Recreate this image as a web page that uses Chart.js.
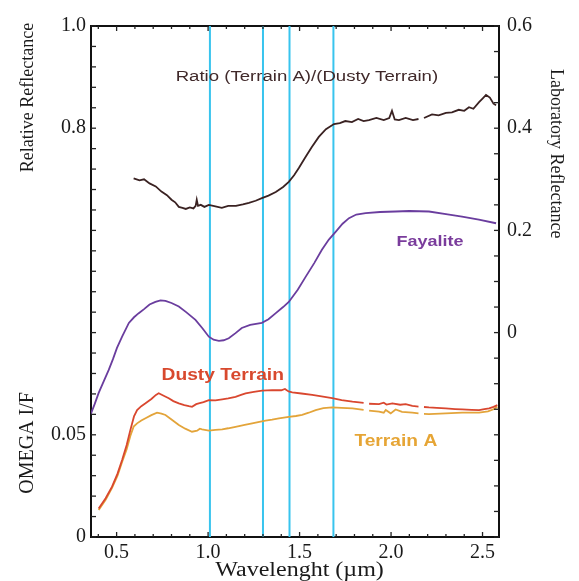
<!DOCTYPE html>
<html>
<head>
<meta charset="utf-8">
<script src="https://cdn.jsdelivr.net/npm/chart.js@4.4.1/dist/chart.umd.min.js"></script>
<style>
  html, body { margin: 0; padding: 0; background: #ffffff; }
  #wrap { width: 579px; height: 581px; position: relative; }
</style>
</head>
<body>
<div id="wrap"><canvas id="chart"></canvas></div>
<script>
// Ratio (Terrain A)/(Dusty Terrain) - left axis, relative reflectance
const ratioWl = [0.593, 0.625, 0.650, 0.680, 0.714, 0.745, 0.775, 0.800, 0.820, 0.840, 0.860, 0.878, 0.900, 0.920, 0.932, 0.938, 0.945, 0.960, 0.980,
  1.004, 1.040, 1.075, 1.110, 1.152, 1.190, 1.223, 1.260, 1.294, 1.330, 1.370, 1.410, 1.441, 1.470, 1.496, 1.530, 1.567, 1.605, 1.644, 1.688,
  1.720, 1.750, 1.786, 1.820, 1.850, 1.879, 1.920, 1.960, 1.990, 2.005, 2.020, 2.043, 2.080, 2.120, 2.150, 2.165, 2.180, 2.224, 2.260, 2.300,
  2.333, 2.370, 2.400, 2.426, 2.450, 2.481, 2.500, 2.519, 2.540, 2.560, 2.574];
const ratioVal = [0.702, 0.698, 0.700, 0.692, 0.686, 0.676, 0.669, 0.660, 0.655, 0.646, 0.644, 0.642, 0.645, 0.643, 0.648, 0.660, 0.648, 0.650, 0.646,
  0.650, 0.647, 0.644, 0.648, 0.648, 0.651, 0.654, 0.658, 0.663, 0.668, 0.675, 0.685, 0.695, 0.708, 0.722, 0.742, 0.763, 0.783, 0.798, 0.808,
  0.810, 0.814, 0.812, 0.818, 0.814, 0.816, 0.820, 0.816, 0.820, 0.834, 0.817, 0.816, 0.820, 0.816, 0.818, null, 0.820, 0.827, 0.825, 0.830,
  0.831, 0.836, 0.834, 0.841, 0.838, 0.851, 0.858, 0.865, 0.860, 0.848, 0.845];

// Fayalite - right axis, laboratory reflectance
const fayWl = [0.357, 0.380, 0.402, 0.430, 0.457, 0.480, 0.502, 0.530, 0.567, 0.595, 0.621, 0.650, 0.680, 0.712, 0.740, 0.767, 0.800, 0.840, 0.880,
  0.931, 0.970, 1.004, 1.030, 1.059, 1.085, 1.113, 1.150, 1.184, 1.230, 1.294, 1.330, 1.370, 1.410, 1.441, 1.490, 1.533, 1.580, 1.622, 1.660,
  1.697, 1.735, 1.770, 1.810, 1.861, 1.940, 2.025, 2.100, 2.207, 2.300, 2.388, 2.480, 2.574];
const fayVal = [-0.161, -0.140, -0.118, -0.095, -0.073, -0.052, -0.030, -0.008, 0.019, 0.030, 0.038, 0.046, 0.055, 0.060, 0.063, 0.062, 0.058, 0.051, 0.040,
  0.025, 0.008, -0.008, -0.014, -0.016, -0.015, -0.011, -0.001, 0.009, 0.015, 0.019, 0.026, 0.038, 0.050, 0.060, 0.084, 0.109, 0.136, 0.162, 0.182,
  0.197, 0.213, 0.224, 0.231, 0.234, 0.236, 0.237, 0.238, 0.237, 0.232, 0.227, 0.221, 0.214];

// Dusty Terrain - OMEGA I/F
const dustyWl = [0.402, 0.440, 0.475, 0.505, 0.530, 0.555, 0.575, 0.595, 0.612, 0.635, 0.658, 0.690, 0.715, 0.730, 0.760, 0.785, 0.810, 0.840, 0.870,
  0.895, 0.912, 0.935, 0.949, 0.975, 1.004, 1.040, 1.077, 1.110, 1.150, 1.180, 1.205, 1.250, 1.295, 1.350, 1.400, 1.420, 1.440, 1.460, 1.510,
  1.569, 1.620, 1.678, 1.730, 1.789, 1.850, 1.865, 1.880, 1.934, 1.960, 1.975, 2.007, 2.050, 2.080, 2.116, 2.150, 2.165, 2.180, 2.207, 2.250,
  2.299, 2.350, 2.389, 2.440, 2.481, 2.510, 2.536, 2.560, 2.581];
const dustyVal = [0.0140, 0.0190, 0.0246, 0.0310, 0.0377, 0.0450, 0.0523, 0.0590, 0.0621, 0.0640, 0.0654, 0.0675, 0.0695, 0.0703, 0.0690, 0.0679, 0.0665, 0.0654, 0.0645,
  0.0640, 0.0637, 0.0650, 0.0654, 0.0660, 0.0670, 0.0668, 0.0673, 0.0678, 0.0686, 0.0695, 0.0703, 0.0710, 0.0716, 0.0719, 0.0718, 0.0724, 0.0712, 0.0708, 0.0702,
  0.0695, 0.0688, 0.0679, 0.0670, 0.0662, 0.0656, null, 0.0652, 0.0650, 0.0657, 0.0648, 0.0654, 0.0647, 0.0650, 0.0641, 0.0638, null, 0.0636, 0.0634, 0.0632,
  0.0629, 0.0626, 0.0624, 0.0622, 0.0621, 0.0626, 0.0629, 0.0637, 0.0645];

// Terrain A - OMEGA I/F
const terrWl = [0.402, 0.440, 0.475, 0.505, 0.530, 0.555, 0.575, 0.593, 0.612, 0.635, 0.658, 0.690, 0.721, 0.745, 0.767, 0.800, 0.840, 0.875, 0.912,
  0.940, 0.955, 0.967, 1.004, 1.040, 1.077, 1.110, 1.150, 1.200, 1.241, 1.280, 1.314, 1.350, 1.387, 1.441, 1.480, 1.514, 1.550, 1.588, 1.630,
  1.678, 1.730, 1.789, 1.850, 1.865, 1.880, 1.934, 1.960, 1.971, 1.998, 2.025, 2.060, 2.116, 2.150, 2.165, 2.180, 2.207, 2.299, 2.389, 2.481,
  2.530, 2.560, 2.581];
const terrVal = [0.0132, 0.0182, 0.0240, 0.0300, 0.0367, 0.0430, 0.0494, 0.0540, 0.0556, 0.0570, 0.0581, 0.0596, 0.0608, 0.0604, 0.0597, 0.0575, 0.0548, 0.0530, 0.0515,
  0.0520, 0.0530, 0.0527, 0.0520, 0.0524, 0.0527, 0.0532, 0.0539, 0.0548, 0.0556, 0.0563, 0.0569, 0.0574, 0.0580, 0.0588, 0.0592, 0.0597, 0.0608, 0.0621, 0.0630,
  0.0634, 0.0632, 0.0629, 0.0622, null, 0.0618, 0.0613, 0.0608, 0.0621, 0.0605, 0.0624, 0.0612, 0.0608, 0.0605, null, 0.0602, 0.0601, 0.0605, 0.0608, 0.0608,
  0.0615, 0.0625, 0.0637];

// band positions (vertical cyan lines)
const bandLines = [1.01, 1.30, 1.445, 1.685];

// tick marks and labels
const xTicks = [0.4, 0.5, 0.6, 0.7, 0.8, 0.9, 1.0, 1.1, 1.2, 1.3, 1.4, 1.5, 1.6, 1.7, 1.8, 1.9, 2.0, 2.1, 2.2, 2.3, 2.4, 2.5];
const xLabels = [0.5, 1.0, 1.5, 2.0, 2.5];
const ratioTicks = [];
for (let i = 0; i <= 25; i++) ratioTicks.push(Math.round(i * 4) / 100);
const ratioLabels = [1.0, 0.8];
const omegaLabels = [0.05, 0];
const labTicks = [];
for (let i = -8; i <= 12; i++) labTicks.push(Math.round(i * 5) / 100);
const labLabels = [0.6, 0.4, 0.2, 0];

const annotations = [
  { text: "Ratio (Terrain A)/(Dusty Terrain)", x: 1.54, y: 0.900, axis: "y", color: "#40292a", bold: false, size: 15.5 },
  { text: "Fayalite", x: 2.213, y: 0.177, axis: "lab", color: "#7a3c9c", bold: true, size: 15 },
  { text: "Dusty Terrain", x: 1.08, y: 0.0792, axis: "omega", color: "#d8492e", bold: true, size: 16 },
  { text: "Terrain A", x: 2.026, y: 0.0465, axis: "omega", color: "#e6a535", bold: true, size: 16 },
];

const serif = "'Liberation Serif', 'Times New Roman', serif";
const sans = "'Liberation Sans', Arial, sans-serif";

const pts = (wl, val) => wl.map((x, i) => ({ x: x, y: val[i] }));

const datasets = [
  { data: pts(ratioWl, ratioVal), yAxisID: "y", borderColor: "#3a2222", borderWidth: 1.8 },
  { data: pts(fayWl, fayVal), yAxisID: "lab", borderColor: "#6a3d9e", borderWidth: 1.8 },
  { data: pts(dustyWl, dustyVal), yAxisID: "omega", borderColor: "#d9472f", borderWidth: 1.8 },
  { data: pts(terrWl, terrVal), yAxisID: "omega", borderColor: "#e3a43a", borderWidth: 1.8 },
];
bandLines.forEach((w) => {
  datasets.push({ data: [{ x: w, y: 0 }, { x: w, y: 1 }], yAxisID: "y", borderColor: "#38c4ee", borderWidth: 2 });
});
datasets.forEach((d) => {
  d.pointRadius = 0;
  d.spanGaps = false;
  d.fill = false;
  d.tension = 0;
});

// inward tick marks on all four sides
const innerTicks = {
  id: "innerTicks",
  afterDraw(chart) {
    const { ctx, chartArea: a, scales } = chart;
    ctx.save();
    ctx.strokeStyle = "#222";
    ctx.lineWidth = 1.3;
    const seg = (x1, y1, x2, y2) => {
      ctx.beginPath();
      ctx.moveTo(x1, y1);
      ctx.lineTo(x2, y2);
      ctx.stroke();
    };
    ratioTicks.forEach((v) => {
      const y = scales.y.getPixelForValue(v);
      seg(a.left, y, a.left + 5, y);
    });
    labTicks.forEach((v) => {
      const y = scales.lab.getPixelForValue(v);
      seg(a.right - 5, y, a.right, y);
    });
    xTicks.forEach((v) => {
      const x = scales.x.getPixelForValue(v);
      const len = xLabels.includes(v) ? 5 : 3;
      seg(x, a.bottom, x, a.bottom - len);
      seg(x, a.top, x, a.top + len);
    });
    ctx.restore();
  },
};

// left labels (two quantities share the left axis) and axis titles
const labelsPlugin = {
  id: "labelsPlugin",
  afterDraw(chart) {
    const { ctx, chartArea: a, scales } = chart;
    ctx.save();
    ctx.fillStyle = "#1a1a1a";
    ctx.font = "20px " + serif;
    ctx.textAlign = "right";
    ctx.textBaseline = "middle";
    ratioLabels.forEach((v) => ctx.fillText(v.toFixed(1), a.left - 5, scales.y.getPixelForValue(v)));
    omegaLabels.forEach((v) => ctx.fillText(v === 0 ? "0" : String(v), a.left - 5, scales.omega.getPixelForValue(v)));

    ctx.textAlign = "center";
    ctx.font = "18px " + serif;
    ctx.save();
    ctx.translate(28, scales.y.getPixelForValue(0.86));
    ctx.rotate(-Math.PI / 2);
    ctx.fillText("Relative Reflectance", 0, 0);
    ctx.restore();

    ctx.save();
    ctx.font = "20px " + serif;
    ctx.translate(28, scales.omega.getPixelForValue(0.046));
    ctx.rotate(-Math.PI / 2);
    ctx.fillText("OMEGA I/F", 0, 0);
    ctx.restore();

    ctx.save();
    ctx.translate(556, scales.lab.getPixelForValue(0.35));
    ctx.rotate(Math.PI / 2);
    ctx.fillText("Laboratory Reflectance", 0, 0);
    ctx.restore();

    ctx.save();
    ctx.font = "20px " + serif;
    ctx.translate(scales.x.getPixelForValue(1.5), 571);
    ctx.scale(1.2, 1);
    ctx.fillText("Wavelenght (\u00b5m)", 0, 0);
    ctx.restore();

    annotations.forEach((n) => {
      ctx.save();
      ctx.fillStyle = n.color;
      ctx.font = (n.bold ? "bold " : "") + n.size + "px " + sans;
      ctx.translate(scales.x.getPixelForValue(n.x), scales[n.axis].getPixelForValue(n.y));
      ctx.scale(1.2, 1);
      ctx.fillText(n.text, 0, 0);
      ctx.restore();
    });
    ctx.restore();
  },
};

const border = { display: true, color: "#111", width: 2 };

new Chart(document.getElementById("chart"), {
  type: "line",
  data: { datasets: datasets },
  plugins: [innerTicks, labelsPlugin],
  options: {
    responsive: true,
    maintainAspectRatio: false,
    animation: false,
    layout: { padding: { top: 26, left: 0, right: 0, bottom: 0 } },
    plugins: { legend: { display: false }, tooltip: { enabled: false } },
    scales: {
      x: {
        type: "linear",
        position: "bottom",
        min: 0.36,
        max: 2.59,
        grid: { display: false, drawTicks: false },
        border: border,
        afterBuildTicks: (s) => { s.ticks = xTicks.map((v) => ({ value: v })); },
        afterFit: (s) => { s.height = 44; },
        ticks: {
          autoSkip: false,
          maxRotation: 0,
          padding: 4,
          color: "#1a1a1a",
          font: { family: serif, size: 20 },
          callback: (v) => (xLabels.includes(v) ? v.toFixed(1) : ""),
        },
      },
      xTop: {
        type: "linear",
        position: "top",
        min: 0.36,
        max: 2.59,
        grid: { display: false, drawTicks: false },
        border: border,
        ticks: { display: false },
        afterFit: (s) => { s.height = 0; },
      },
      y: {
        type: "linear",
        position: "left",
        min: 0,
        max: 1.0,
        grid: { display: false, drawTicks: false },
        border: border,
        ticks: { display: false },
        afterFit: (s) => { s.width = 91; },
      },
      omega: {
        type: "linear",
        position: "left",
        min: 0,
        max: 0.25,
        display: false,
      },
      lab: {
        type: "linear",
        position: "right",
        min: -0.4,
        max: 0.6,
        grid: { display: false, drawTicks: false },
        border: border,
        afterBuildTicks: (s) => { s.ticks = labTicks.map((v) => ({ value: v })); },
        afterFit: (s) => { s.width = 80; },
        ticks: {
          autoSkip: false,
          padding: 8,
          color: "#1a1a1a",
          font: { family: serif, size: 20 },
          callback: (v) => (labLabels.includes(v) ? (v === 0 ? "0" : v.toFixed(1)) : ""),
        },
      },
    },
  },
});
</script>
</body>
</html>
